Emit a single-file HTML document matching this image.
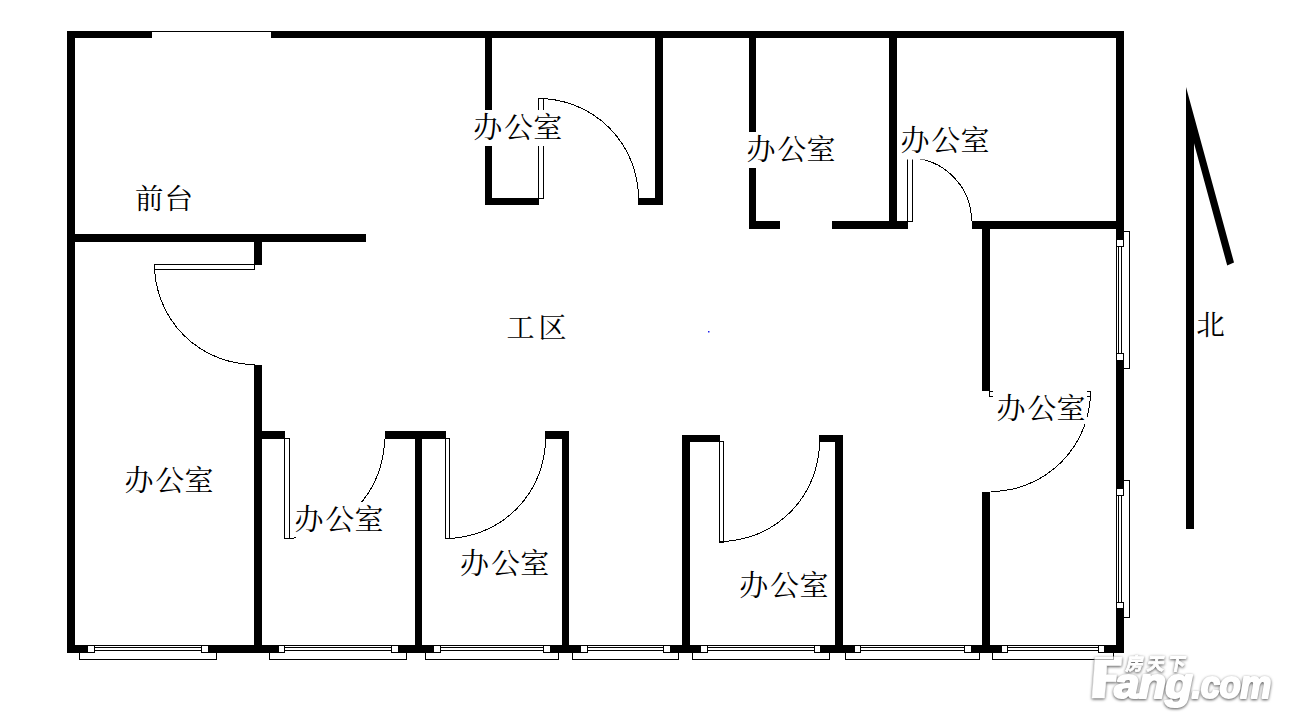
<!DOCTYPE html>
<html><head><meta charset="utf-8"><title>floor plan</title>
<style>
html,body{margin:0;padding:0;background:#fff;}
body{width:1289px;height:724px;position:relative;overflow:hidden;font-family:"Liberation Sans",sans-serif;}
svg{position:absolute;left:0;top:0;}
.lbl{font-family:"Liberation Serif","Noto Serif CJK SC",serif;font-size:29px;fill:#000;}
</style></head><body>
<svg width="1289" height="724" viewBox="0 0 1289 724">
<defs><filter id="glow" x="-10%" y="-30%" width="120%" height="160%" color-interpolation-filters="sRGB">
<feGaussianBlur in="SourceAlpha" stdDeviation="1.5" result="b"/>
<feOffset in="b" dx="0.4" dy="0.5" result="o"/>
<feComponentTransfer in="o" result="s"><feFuncA type="linear" slope="1.15"/></feComponentTransfer>
<feFlood flood-color="#6a6a6a" result="c"/><feComposite in="c" in2="s" operator="in" result="sh"/>
<feMerge><feMergeNode in="sh"/><feMergeNode in="SourceGraphic"/></feMerge></filter></defs>
<g shape-rendering="crispEdges">
<rect x="67" y="31" width="85" height="7" fill="#000"/>
<rect x="271" y="31" width="853" height="7" fill="#000"/>
<rect x="152" y="31" width="119" height="1" fill="#000"/>
<rect x="67" y="31" width="8" height="622" fill="#000"/>
<rect x="1116" y="31" width="8" height="622" fill="#000"/>
<rect x="67" y="645" width="1057" height="8" fill="#000"/>
<rect x="67" y="234" width="299" height="8" fill="#000"/>
<rect x="254" y="242" width="8" height="23" fill="#000"/>
<rect x="254" y="365" width="8" height="288" fill="#000"/>
<rect x="254" y="431" width="31" height="8" fill="#000"/>
<rect x="385" y="431" width="61" height="8" fill="#000"/>
<rect x="545" y="431" width="24" height="8" fill="#000"/>
<rect x="415" y="431" width="7" height="222" fill="#000"/>
<rect x="562" y="431" width="7" height="222" fill="#000"/>
<rect x="682" y="435" width="38" height="7" fill="#000"/>
<rect x="819" y="435" width="24" height="7" fill="#000"/>
<rect x="682" y="435" width="8" height="218" fill="#000"/>
<rect x="835" y="435" width="8" height="218" fill="#000"/>
<rect x="982" y="221" width="8" height="170" fill="#000"/>
<rect x="982" y="492" width="8" height="161" fill="#000"/>
<rect x="485" y="31" width="7" height="174" fill="#000"/>
<rect x="485" y="198" width="54" height="7" fill="#000"/>
<rect x="638" y="198" width="25" height="7" fill="#000"/>
<rect x="655" y="31" width="8" height="174" fill="#000"/>
<rect x="749" y="31" width="7" height="198" fill="#000"/>
<rect x="749" y="221" width="31" height="8" fill="#000"/>
<rect x="832" y="221" width="76" height="8" fill="#000"/>
<rect x="889" y="31" width="8" height="198" fill="#000"/>
<rect x="972" y="221" width="152" height="8" fill="#000"/>
<rect x="87" y="645" width="122" height="8" fill="#fff"/>
<rect x="79" y="653" width="1" height="7" fill="#000"/>
<rect x="216" y="653" width="1" height="7" fill="#000"/>
<rect x="79" y="659" width="138" height="1" fill="#000"/>
<rect x="87" y="645" width="8" height="8" fill="#000"/>
<rect x="88" y="646" width="6" height="6" fill="#fff"/>
<rect x="201" y="645" width="8" height="8" fill="#000"/>
<rect x="202" y="646" width="6" height="6" fill="#fff"/>
<rect x="95" y="645" width="106" height="1" fill="#000"/>
<rect x="95" y="647" width="106" height="1" fill="#000"/>
<rect x="95" y="650" width="106" height="1" fill="#000"/>
<rect x="278" y="645" width="121" height="8" fill="#fff"/>
<rect x="269" y="653" width="1" height="7" fill="#000"/>
<rect x="406" y="653" width="1" height="7" fill="#000"/>
<rect x="269" y="659" width="138" height="1" fill="#000"/>
<rect x="278" y="645" width="7" height="8" fill="#000"/>
<rect x="279" y="646" width="5" height="6" fill="#fff"/>
<rect x="391" y="645" width="8" height="8" fill="#000"/>
<rect x="392" y="646" width="6" height="6" fill="#fff"/>
<rect x="285" y="645" width="106" height="1" fill="#000"/>
<rect x="285" y="647" width="106" height="1" fill="#000"/>
<rect x="285" y="650" width="106" height="1" fill="#000"/>
<rect x="433" y="645" width="118" height="8" fill="#fff"/>
<rect x="425" y="653" width="1" height="7" fill="#000"/>
<rect x="558" y="653" width="1" height="7" fill="#000"/>
<rect x="425" y="659" width="134" height="1" fill="#000"/>
<rect x="433" y="645" width="8" height="8" fill="#000"/>
<rect x="434" y="646" width="6" height="6" fill="#fff"/>
<rect x="543" y="645" width="8" height="8" fill="#000"/>
<rect x="544" y="646" width="6" height="6" fill="#fff"/>
<rect x="441" y="645" width="102" height="1" fill="#000"/>
<rect x="441" y="647" width="102" height="1" fill="#000"/>
<rect x="441" y="650" width="102" height="1" fill="#000"/>
<rect x="580" y="645" width="91" height="8" fill="#fff"/>
<rect x="572" y="653" width="1" height="7" fill="#000"/>
<rect x="678" y="653" width="1" height="7" fill="#000"/>
<rect x="572" y="659" width="107" height="1" fill="#000"/>
<rect x="580" y="645" width="8" height="8" fill="#000"/>
<rect x="581" y="646" width="6" height="6" fill="#fff"/>
<rect x="663" y="645" width="8" height="8" fill="#000"/>
<rect x="664" y="646" width="6" height="6" fill="#fff"/>
<rect x="588" y="645" width="75" height="1" fill="#000"/>
<rect x="588" y="647" width="75" height="1" fill="#000"/>
<rect x="588" y="650" width="75" height="1" fill="#000"/>
<rect x="700" y="645" width="121" height="8" fill="#fff"/>
<rect x="692" y="653" width="1" height="7" fill="#000"/>
<rect x="829" y="653" width="1" height="7" fill="#000"/>
<rect x="692" y="659" width="138" height="1" fill="#000"/>
<rect x="700" y="645" width="8" height="8" fill="#000"/>
<rect x="701" y="646" width="6" height="6" fill="#fff"/>
<rect x="814" y="645" width="7" height="8" fill="#000"/>
<rect x="815" y="646" width="5" height="6" fill="#fff"/>
<rect x="708" y="645" width="106" height="1" fill="#000"/>
<rect x="708" y="647" width="106" height="1" fill="#000"/>
<rect x="708" y="650" width="106" height="1" fill="#000"/>
<rect x="854" y="645" width="118" height="8" fill="#fff"/>
<rect x="845" y="653" width="1" height="7" fill="#000"/>
<rect x="979" y="653" width="1" height="7" fill="#000"/>
<rect x="845" y="659" width="135" height="1" fill="#000"/>
<rect x="854" y="645" width="7" height="8" fill="#000"/>
<rect x="855" y="646" width="5" height="6" fill="#fff"/>
<rect x="964" y="645" width="8" height="8" fill="#000"/>
<rect x="965" y="646" width="6" height="6" fill="#fff"/>
<rect x="861" y="645" width="103" height="1" fill="#000"/>
<rect x="861" y="647" width="103" height="1" fill="#000"/>
<rect x="861" y="650" width="103" height="1" fill="#000"/>
<rect x="1001" y="645" width="104" height="8" fill="#fff"/>
<rect x="992" y="653" width="1" height="7" fill="#000"/>
<rect x="1113" y="653" width="1" height="7" fill="#000"/>
<rect x="992" y="659" width="122" height="1" fill="#000"/>
<rect x="1001" y="645" width="7" height="8" fill="#000"/>
<rect x="1002" y="646" width="5" height="6" fill="#fff"/>
<rect x="1098" y="645" width="7" height="8" fill="#000"/>
<rect x="1099" y="646" width="5" height="6" fill="#fff"/>
<rect x="1008" y="645" width="90" height="1" fill="#000"/>
<rect x="1008" y="647" width="90" height="1" fill="#000"/>
<rect x="1008" y="650" width="90" height="1" fill="#000"/>
<rect x="1116" y="239" width="8" height="122" fill="#fff"/>
<rect x="1124" y="231" width="6" height="1" fill="#000"/>
<rect x="1124" y="368" width="6" height="1" fill="#000"/>
<rect x="1129" y="231" width="1" height="138" fill="#000"/>
<rect x="1116" y="239" width="8" height="8" fill="#000"/>
<rect x="1117" y="240" width="6" height="6" fill="#fff"/>
<rect x="1116" y="353" width="8" height="8" fill="#000"/>
<rect x="1117" y="354" width="6" height="6" fill="#fff"/>
<rect x="1116" y="247" width="1" height="106" fill="#000"/>
<rect x="1118" y="247" width="1" height="106" fill="#000"/>
<rect x="1121" y="247" width="1" height="106" fill="#000"/>
<rect x="1116" y="488" width="8" height="121" fill="#fff"/>
<rect x="1124" y="480" width="6" height="1" fill="#000"/>
<rect x="1124" y="617" width="6" height="1" fill="#000"/>
<rect x="1129" y="480" width="1" height="138" fill="#000"/>
<rect x="1116" y="488" width="8" height="8" fill="#000"/>
<rect x="1117" y="489" width="6" height="6" fill="#fff"/>
<rect x="1116" y="602" width="8" height="7" fill="#000"/>
<rect x="1117" y="603" width="6" height="5" fill="#fff"/>
<rect x="1116" y="496" width="1" height="106" fill="#000"/>
<rect x="1118" y="496" width="1" height="106" fill="#000"/>
<rect x="1121" y="496" width="1" height="106" fill="#000"/>
</g>
<rect x="154.5" y="264.5" width="100" height="5" fill="#fff" stroke="#000" stroke-width="1" shape-rendering="crispEdges"/>
<path d="M154.50 264.50 A100 100 0 0 0 254.50 364.50" fill="none" stroke="#000" stroke-width="1" shape-rendering="crispEdges"/>
<rect x="538.5" y="98.5" width="5" height="100" fill="#fff" stroke="#000" stroke-width="1" shape-rendering="crispEdges"/>
<path d="M538.50 98.50 A100 100 0 0 1 638.50 198.50" fill="none" stroke="#000" stroke-width="1" shape-rendering="crispEdges"/>
<rect x="907.5" y="157.5" width="5" height="64" fill="#fff" stroke="#000" stroke-width="1" shape-rendering="crispEdges"/>
<path d="M908.50 158.00 A63 63 0 0 1 971.50 221.00" fill="none" stroke="#000" stroke-width="1" shape-rendering="crispEdges"/>
<rect x="989.5" y="391.5" width="101" height="5" fill="#fff" stroke="#000" stroke-width="1" shape-rendering="crispEdges"/>
<path d="M1090.50 391.50 A100 100 0 0 1 990.50 491.50" fill="none" stroke="#000" stroke-width="1" shape-rendering="crispEdges"/>
<rect x="284.5" y="438.5" width="5" height="100" fill="#fff" stroke="#000" stroke-width="1" shape-rendering="crispEdges"/>
<path d="M284.50 538.50 A100 100 0 0 0 384.50 438.50" fill="none" stroke="#000" stroke-width="1" shape-rendering="crispEdges"/>
<rect x="445.5" y="438.5" width="4" height="100" fill="#fff" stroke="#000" stroke-width="1" shape-rendering="crispEdges"/>
<path d="M445.50 538.50 A100 100 0 0 0 545.50 438.50" fill="none" stroke="#000" stroke-width="1" shape-rendering="crispEdges"/>
<rect x="719.5" y="441.5" width="4" height="101" fill="#fff" stroke="#000" stroke-width="1" shape-rendering="crispEdges"/>
<path d="M719.50 541.50 A100 100 0 0 0 819.50 441.50" fill="none" stroke="#000" stroke-width="1" shape-rendering="crispEdges"/>
<polygon points="1186,87 1234,262.5 1227.2,265.5 1194,143.3 1194,529 1186,529" fill="#000"/>
<rect x="708" y="331" width="1.5" height="1.5" fill="#2222ee"/>
<rect x="470" y="110" width="94" height="36" fill="#fff"/>
<text class="lbl" x="473.2 504 533.3" y="137.6">办公室</text>
<rect x="743" y="132" width="94" height="36" fill="#fff"/>
<text class="lbl" x="746.5 777.3 806.6" y="159.6">办公室</text>
<rect x="898" y="123" width="94" height="36.5" fill="#fff"/>
<text class="lbl" x="900.4 931.2 960.5" y="150.6">办公室</text>
<rect x="993" y="390" width="94" height="34" fill="#fff"/>
<text class="lbl" x="996.5 1027.3 1056.6" y="418.7">办公室</text>
<text class="lbl" x="124.4 155.2 184.5" y="490.7">办公室</text>
<rect x="296" y="502" width="90" height="36.60000000000002" fill="#fff"/>
<text class="lbl" x="294.4 325.2 354.5" y="529.8">办公室</text>
<text class="lbl" x="460.1 490.9 520.2" y="574.4">办公室</text>
<text class="lbl" x="739.3 770.1 799.4" y="596.4">办公室</text>
<text class="lbl" x="134.9 164.5" y="209.3" style="font-size:28.5px">前台</text>
<text class="lbl" x="506.6 538.5" y="338.1" style="font-size:28px">工区</text>
<text class="lbl" x="1196.3" y="335.4" style="font-size:28.5px">北</text>
<g filter="url(#glow)" fill="#fff" stroke="#fff" stroke-linejoin="round" font-family="Liberation Sans, sans-serif" font-weight="bold" font-style="italic"><path d="M1092 698 L1095.2 657 L1122 657 L1121.2 665.5 L1106.8 665.5 L1106.3 674.7 L1116.6 674.7 L1116 681.7 L1105.9 681.7 L1104.4 698 Z" stroke-width="0.6"/><text transform="translate(1114.2 697.6) scale(1.05 1)" font-size="43" letter-spacing="-0.8" stroke-width="2.2">ang</text><text transform="translate(1191.6 697.6) scale(0.905 1)" font-size="38.5" letter-spacing="-0.6" stroke-width="2.2">.com</text><g stroke-width="0.9" transform="translate(1155 664) skewX(-10) translate(-1155 -664)"><text x="1126.3 1147.3 1168.3" y="669.9" font-size="17.5" font-style="normal" font-weight="bold" font-family="Liberation Sans, Noto Sans CJK SC, sans-serif">房天下</text></g></g><g shape-rendering="crispEdges" fill="#ababab"><rect x="1095" y="659" width="19" height="1"/><rect x="1113" y="657" width="1" height="3"/></g>
</svg>

</body></html>
